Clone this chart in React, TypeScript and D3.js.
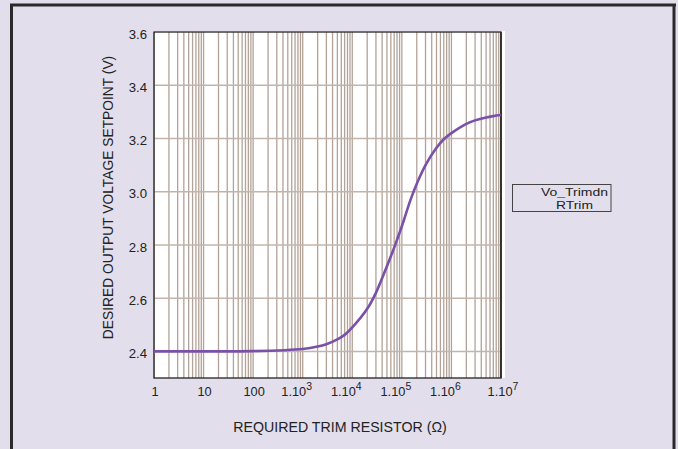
import React from "react";
import * as d3 from "d3";

const resistance = [1, 10, 100, 1e3, 2e3, 3e3, 5e3, 7e3, 1e4, 2e4, 3e4, 5e4, 7e4, 1e5, 1.5e5, 2e5, 3e5, 5e5, 7e5, 1e6, 2e6, 3e6, 5e6, 7e6, 1e7];
const voltage = [2.4, 2.4, 2.401, 2.409, 2.418, 2.427, 2.445, 2.462, 2.49, 2.56, 2.62, 2.72, 2.79, 2.87, 2.97, 3.03, 3.1, 3.165, 3.197, 3.22, 3.255, 3.268, 3.279, 3.284, 3.288];

const yTicks = [2.4, 2.6, 2.8, 3.0, 3.2, 3.4, 3.6];
const xTickValues = [1, 10, 100, 1e3, 1e4, 1e5, 1e6, 1e7];
const xTickBase = ["1", "10", "100", "1.10", "1.10", "1.10", "1.10", "1.10"];
const xTickExp = ["", "", "", "3", "4", "5", "6", "7"];

const legendLines = ["Vo_Trimdn", "RTrim"];
const xTitle = "REQUIRED TRIM RESISTOR (\u03a9)";
const yTitle = "DESIRED OUTPUT VOLTAGE SETPOINT (V)";

export default function App() {
  const W = 678, H = 449;
  const L = 154, R = 501, T = 32, B = 378;
  const x = d3.scaleLog().domain([1, 1e7]).range([L, R]);
  const y = d3.scaleLinear().domain([2.3, 3.6]).range([B, T]);

  const gridX: number[] = [];
  for (let e = 0; e < 7; e++) {
    for (let m = 1; m <= 9; m++) gridX.push(m * Math.pow(10, e));
  }
  gridX.push(1e7);

  const line = d3
    .line<number>()
    .x((_, i) => x(resistance[i]))
    .y((v) => y(v))
    .curve(d3.curveCatmullRom.alpha(0.5));

  const font = "'Liberation Sans', Arial, Helvetica, sans-serif";

  return (
    <div style={{ position: "absolute", left: 0, top: 0 }}>
      <svg width={W} height={H} style={{ display: "block" }} fontFamily={font}>
        <rect x={0} y={0} width={W} height={H} fill="#e3deec" />
        {/* frame */}
        <line x1={11.5} y1={4} x2={11.5} y2={H} stroke="#2a2a2a" strokeWidth={3} />
        <line x1={10} y1={5} x2={676} y2={5} stroke="#2a2a2a" strokeWidth={3} />
        <line x1={674} y1={4} x2={674} y2={H} stroke="#2a2a2a" strokeWidth={3} />

        {/* plot bg */}
        <rect x={L - 1} y={T - 1} width={R - L + 5} height={B - T + 1} fill="#ffffff" />

        {/* grid */}
        {gridX.map((v, i) => (
          <line key={"gx" + i} x1={x(v)} x2={x(v)} y1={T} y2={B} stroke="#b3a297" strokeWidth={1.3} />
        ))}
        {yTicks.slice(0, -1).map((v, i) => (
          <line key={"gy" + i} x1={L} x2={R} y1={y(v)} y2={y(v)} stroke="#c2b4aa" strokeWidth={1.5} />
        ))}

        {/* plot border */}
        <rect x={L} y={T} width={R - L} height={B - T} fill="none" stroke="#222" strokeWidth={1.3} />
        <line x1={R} x2={R} y1={T} y2={B} stroke="#333" strokeWidth={2} />

        {/* curve */}
        <path d={line(voltage) || ""} fill="none" stroke="#7a50a8" strokeWidth={2.6} />

        {/* y ticks */}
        {yTicks.map((v, i) => (
          <text key={"yt" + i} x={147} y={y(v) + 2} dy="0.35em" textAnchor="end" fontSize={13.2} fill="#222">
            {v.toFixed(1)}
          </text>
        ))}

        {/* x ticks */}
        {xTickValues.map((v, i) => (
          <text
            key={"xt" + i}
            x={x(v) + (xTickExp[i] ? (i === xTickValues.length - 1 ? 2 : -6) : 1)}
            y={396}
            textAnchor="middle"
            fontSize={12.8}
            fill="#222"
          >
            {xTickBase[i]}
            {xTickExp[i] ? (
              <tspan dy={-6} fontSize={10.5}>
                {xTickExp[i]}
              </tspan>
            ) : null}
          </text>
        ))}

        {/* titles */}
        <text x={340} y={432} textAnchor="middle" fontSize={14.2} fill="#222">
          {xTitle}
        </text>
        <text
          transform={`translate(113, 197.5) rotate(-90)`}
          textAnchor="middle"
          fontSize={13.8}
          fill="#222"
        >
          {yTitle}
        </text>

        {/* legend */}
        <rect x={512.5} y={184.5} width={98.5} height={27} fill="none" stroke="#444" strokeWidth={1} />
        <text x={541} y={196} fontSize={11.5} textLength={67} lengthAdjust="spacingAndGlyphs" fill="#222">
          {legendLines[0]}
        </text>
        <text x={556} y={208.5} fontSize={11.5} textLength={37} lengthAdjust="spacingAndGlyphs" fill="#222">
          {legendLines[1]}
        </text>
      </svg>
    </div>
  );
}
